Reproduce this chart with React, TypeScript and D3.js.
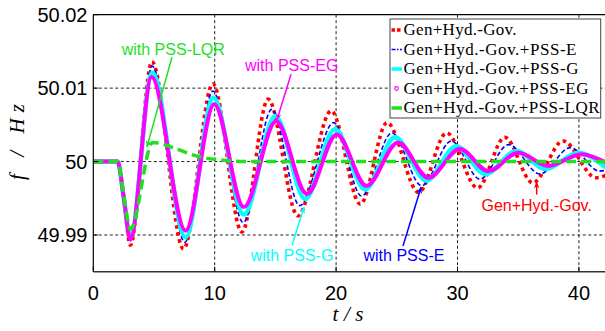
import React from 'react';
import * as d3 from 'd3';

// extrema (t in s, f in Hz)
const T_GOV = [0, 2.0, 2.5, 3.05, 4.83, 7.43, 9.85, 12.24, 14.4, 16.85, 19.6, 22.0, 24.2, 26.8, 29.1, 31.65, 33.9, 36.2, 38.7, 41.4, 42.2];
const F_GOV = [50, 50, 49.9952, 49.9886, 50.0136, 49.9881, 50.0106, 49.9904, 50.0085, 49.9926, 50.0069, 49.9942, 50.0053, 49.9958, 50.0039, 49.9964, 50.0033, 49.9971, 50.0028, 49.9978, 49.9981];

const T_E = [0, 2.0, 2.5, 3.05, 4.85, 7.55, 9.85, 12.35, 14.7, 17.0, 19.8, 22.1, 24.6, 27.05, 29.5, 31.85, 34.2, 36.8, 39.3, 41.7, 42.2];
const F_E = [50, 50, 49.9952, 49.9892, 50.013, 49.989, 50.0096, 49.9917, 50.0071, 49.994, 50.0053, 49.9953, 50.0039, 49.9967, 50.0028, 49.9976, 50.0023, 49.9983, 50.0019, 49.9987, 49.9988];

const T_G = [0, 2.0, 2.5, 3.05, 4.85, 7.6, 9.9, 12.4, 15.0, 17.45, 19.9, 22.4, 24.85, 27.45, 29.9, 32.3, 34.87, 37.25, 39.95, 42.2];
const F_G = [50, 50, 49.9952, 49.9896, 50.0121, 49.9897, 50.0087, 49.9928, 50.0062, 49.9949, 50.0044, 49.9962, 50.0033, 49.9974, 50.0021, 49.9983, 50.00144, 49.999, 50.0012, 49.9992];

const T_EG = [0, 2.0, 2.5, 3.05, 4.8, 7.6, 9.96, 12.4, 15.06, 17.6, 20.05, 22.5, 25.1, 27.6, 30.2, 32.55, 35.0, 37.5, 40.2, 42.2];
const F_EG = [50, 50, 49.9952, 49.9894, 50.0115, 49.9906, 50.0078, 49.9938, 50.0055, 49.9956, 50.0037, 49.9967, 50.0026, 49.9978, 50.0017, 49.9987, 50.0012, 49.9994, 50.001, 49.9999];

const T_LQR = [0, 2.0, 2.5, 3.05, 4.9, 6.9, 8.4, 10, 13, 42.2];
const F_LQR = [50, 50, 49.9955, 49.9908, 50.0026, 50.0017, 50.0008, 50.0003, 50, 50];

const X_TICKS = [0, 10, 20, 30, 40];
const Y_TICKS = [49.99, 50, 50.01, 50.02];
const Y_TICK_LABELS = ['49.99', '50', '50.01', '50.02'];

const LEGEND_LABELS = [
  'Gen+Hyd.-Gov.',
  'Gen+Hyd.-Gov.+PSS-E',
  'Gen+Hyd.-Gov.+PSS-G',
  'Gen+Hyd.-Gov.+PSS-EG',
  'Gen+Hyd.-Gov.+PSS-LQR',
];
const LEGEND_WIDTHS = [113, 173, 175, 185, 196];

// annotations in data units: text anchor point and arrow from -> to
const NOTES = [
  { text: 'with PSS-LQR', color: '#1ee01e', tx: 6.59, ty: 50.0145, from: [6.48, 50.0142], to: [4.42, 50.002] },
  { text: 'with PSS-EG', color: '#ff00ff', tx: 16.34, ty: 50.0123, from: [16.29, 50.0119], to: [15.13, 50.0057] },
  { text: 'with PSS-G', color: '#00ffff', tx: 16.37, ty: 49.9864, from: [16.37, 49.9886], to: [17.36, 49.9938] },
  { text: 'with PSS-E', color: '#0000ff', tx: 25.59, ty: 49.9864, from: [25.51, 49.9885], to: [27.0, 49.9965] },
  { text: 'Gen+Hyd.-Gov.', color: '#ff0000', tx: 36.52, ty: 49.9933, from: [36.52, 49.9955], to: [36.52, 49.9972] },
];

const W = 605;
const H = 331;
const LEFT = 93.3;
const TOP = 14.7;
const BOTTOM = 271.7;

export default function App() {
  const x = d3.scaleLinear().domain([0, 42.2]).range([LEFT, LEFT + 42.2 * 12.14]);
  const y = d3.scaleLinear().domain([49.985, 50.02]).range([BOTTOM, TOP]);

  const line = d3.line<[number, number]>()
    .x((d) => x(d[0])).y((d) => y(d[1])).curve(d3.curveMonotoneX);
  const pts = (t: number[], f: number[]) => t.map((v, i) => [v, f[i]] as [number, number]);

  const series = [
    { d: pts(T_GOV, F_GOV), color: '#ff0000', width: 3.6, dash: '3.6 3.6' },
    { d: pts(T_E, F_E), color: '#0000ff', width: 1.6, dash: '4.5 2.5' },
    { d: pts(T_G, F_G), color: '#00ffff', width: 4.5, dash: undefined },
    { d: pts(T_EG, F_EG), color: '#ff00ff', width: 4, dash: undefined },
    { d: pts(T_LQR, F_LQR), color: '#1ee01e', width: 3.5, dash: '10 5' },
  ];

  const lgX = 390;
  const lgY = 19;
  const rowH = 19.5;

  return (
    <svg width={W} height={H} style={{ position: 'absolute', left: 0, top: 0, background: '#fff' }}>
      <defs>
        <clipPath id="plot">
          <rect x={LEFT} y={TOP} width={W - LEFT} height={BOTTOM - TOP} />
        </clipPath>
        {NOTES.map((n, i) => (
          <marker key={i} id={`ah${i}`} viewBox="0 0 10 10" refX="9" refY="5" markerWidth="7" markerHeight="7"
            markerUnits="userSpaceOnUse" orient="auto">
            <path d="M0,1 L10,5 L0,9 L3,5 Z" fill={n.color} />
          </marker>
        ))}
      </defs>

      {/* grid */}
      {X_TICKS.filter((t) => t > 0).map((t) => (
        <line key={`gx${t}`} x1={x(t)} x2={x(t)} y1={TOP} y2={BOTTOM} stroke="#222" strokeWidth={1} strokeDasharray="3 2.5" />
      ))}
      {Y_TICKS.filter((v) => v < 50.02).map((v) => (
        <line key={`gy${v}`} x1={LEFT} x2={W} y1={y(v)} y2={y(v)} stroke="#222" strokeWidth={1} strokeDasharray="3 2.5" />
      ))}

      {/* curves */}
      <g clipPath="url(#plot)">
        {series.map((s, i) => (
          <path key={i} d={line(s.d) || ''} fill="none" stroke={s.color} strokeWidth={s.width}
            strokeDasharray={s.dash} strokeLinejoin="round" />
        ))}
      </g>

      {/* frame */}
      <line x1={LEFT} x2={W} y1={TOP} y2={TOP} stroke="#000" strokeWidth={1.2} />
      <line x1={LEFT} x2={W} y1={BOTTOM} y2={BOTTOM} stroke="#333" strokeWidth={1.4} />
      <line x1={LEFT} x2={LEFT} y1={TOP} y2={BOTTOM} stroke="#000" strokeWidth={1.2} />
      {X_TICKS.map((t) => (
        <line key={`tx${t}`} x1={x(t)} x2={x(t)} y1={BOTTOM} y2={BOTTOM - 5} stroke="#000" />
      ))}
      {Y_TICKS.map((v) => (
        <line key={`ty${v}`} x1={LEFT} x2={LEFT + 5} y1={y(v)} y2={y(v)} stroke="#000" />
      ))}

      {/* tick labels */}
      <g fontFamily="'Liberation Sans', Arial, sans-serif" fontSize={20} fill="#000">
        {X_TICKS.map((t) => (
          <text key={`lx${t}`} x={x(t)} y={300} textAnchor="middle">{t}</text>
        ))}
        {Y_TICKS.map((v, i) => (
          <text key={`ly${v}`} x={87.5} y={y(v) + 7.3} textAnchor="end">{Y_TICK_LABELS[i]}</text>
        ))}
      </g>

      {/* axis labels */}
      <text x={348} y={321} textAnchor="middle" fontFamily="'Liberation Serif', serif" fontStyle="italic"
        fontSize={21} textLength={31} lengthAdjust="spacing">t/s</text>
      <text transform="translate(24,142) rotate(-90)" textAnchor="middle" fontFamily="'Liberation Serif', serif"
        fontStyle="italic" fontSize={21} textLength={76} lengthAdjust="spacing">f / Hz</text>

      {/* annotations */}
      <g fontFamily="'Liberation Sans', Arial, sans-serif" fontSize={16}>
        {NOTES.map((n, i) => (
          <g key={i}>
            <line x1={x(n.from[0])} y1={y(n.from[1])} x2={x(n.to[0])} y2={y(n.to[1])}
              stroke={n.color} strokeWidth={1.5} markerEnd={`url(#ah${i})`} />
            <text x={x(n.tx)} y={y(n.ty)} textAnchor="middle" fill={n.color}>{n.text}</text>
          </g>
        ))}
      </g>

      {/* legend */}
      <rect x={lgX} y={lgY} width={210.7} height={99} fill="#fff" stroke="#444" strokeWidth={1} />
      <g fontFamily="'Liberation Serif', 'Times New Roman', serif" fontSize={17} fill="#000">
        {LEGEND_LABELS.map((lab, i) => {
          const cy = lgY + 11 + i * rowH;
          const s = series[i];
          return (
            <g key={lab}>
              {i === 3 ? (
                <circle cx={lgX + 6.5} cy={cy} r={1.8} fill="none" stroke={s.color} strokeWidth={1.2} />
              ) : (
                <line x1={lgX + 1.5} x2={lgX + 12} y1={cy} y2={cy} stroke={s.color}
                  strokeWidth={i === 1 ? 1.6 : 3.5} strokeDasharray={i === 0 ? '3.5 2' : i === 1 ? '4 1.5 1.5 1.5' : undefined} />
              )}
              <text x={lgX + 13.5} y={cy + 5} textLength={LEGEND_WIDTHS[i]} lengthAdjust="spacing">{lab}</text>
            </g>
          );
        })}
      </g>
    </svg>
  );
}
